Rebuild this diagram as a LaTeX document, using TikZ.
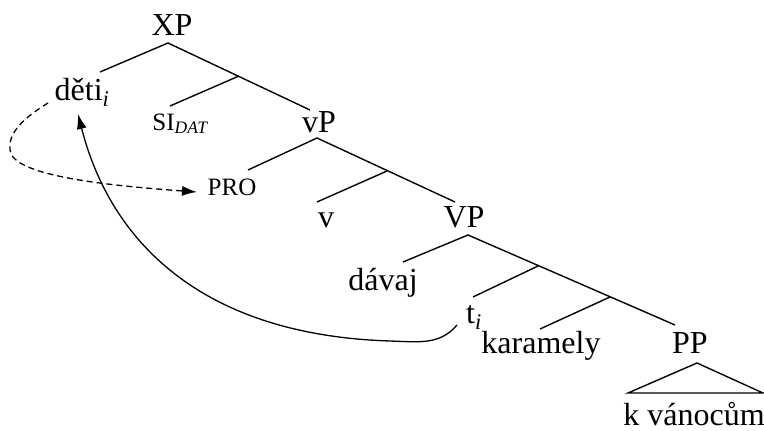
\documentclass[tikz,border=0pt]{standalone}
\usepackage{fontspec}
\setmainfont{Liberation Serif}
\usetikzlibrary{arrows.meta}
\begin{document}
\begin{tikzpicture}[x=1pt,y=-1pt,
  lbl/.style={anchor=base,inner sep=0pt,font=\fontsize{32}{38}\selectfont},
  slbl/.style={anchor=base,inner sep=0pt,font=\fontsize{25}{30}\selectfont},
  edge/.style={line width=1.4pt},
  mv/.style={line width=1.3pt,-{Latex[length=15pt,width=10pt]}}]
\useasboundingbox (0,0) rectangle (764,431);
% labels
\node[lbl] (XP) at (172,35) {XP};
\node[lbl] (deti) at (82,100) {děti\textsubscript{\itshape i}};
\node[slbl] (SI) at (180,130) {SI\textsubscript{\itshape DAT}};
\node[lbl] (vP) at (319,132) {vP};
\node[slbl] (PRO) at (232,195) {PRO};
\node[lbl] (v) at (326,227) {v};
\node[lbl] (VP) at (464,227) {VP};
\node[lbl] (davaj) at (383,290) {dávaj};
\node[lbl] (t) at (474,323) {t\textsubscript{\itshape i}};
\node[lbl] (kar) at (541,353) {karamely};
\node[lbl] (PP) at (690,353) {PP};
\node[lbl] (kv) at (694,425) {k vánocům};
% tree points
\coordinate (XPb) at (168,43);
\coordinate (detit) at (100,72);
\coordinate (B1) at (239,76);
\coordinate (SIt) at (170,106);
\coordinate (vPt) at (310,110);
\coordinate (vPb) at (317,138);
\coordinate (PROt) at (248,170);
\coordinate (B2) at (387,171);
\coordinate (vt) at (317,202);
\coordinate (VPt) at (455,202);
\coordinate (VPb) at (468,235);
\coordinate (davt) at (403,262);
\coordinate (B3) at (538,266);
\coordinate (tt) at (473,297);
\coordinate (B4) at (610,297);
\coordinate (kart) at (540,329);
\coordinate (PPt) at (675,325);
\coordinate (tri) at (697,363);
\coordinate (trl) at (628,393);
\coordinate (trr) at (763,393);
% edges
\draw[edge] (detit) -- (XPb) -- (vPt);
\draw[edge] (B1) -- (SIt);
\draw[edge] (PROt) -- (vPb) -- (VPt);
\draw[edge] (B2) -- (vt);
\draw[edge] (davt) -- (VPb) -- (PPt);
\draw[edge] (B3) -- (tt);
\draw[edge] (B4) -- (kart);
\draw[edge] (trl) -- (tri) -- (trr) -- cycle;
% movement arrows
\coordinate (ds) at (48,103);
\coordinate (dm) at (10,150);
\coordinate (de) at (197,192);
\draw[mv,dashed,dash pattern=on 6pt off 4pt] (ds) .. controls (20,120) and (8,135) .. (dm)
  .. controls (12,175) and (100,185) .. (de);
\coordinate (ms) at (457,325);
\coordinate (mm) at (390,341);
\coordinate (me) at (78,114);
\draw[mv] (ms) .. controls (440,345) and (420,342) .. (mm)
  .. controls (200,335) and (110,240) .. (me);
\end{tikzpicture}
\end{document}
